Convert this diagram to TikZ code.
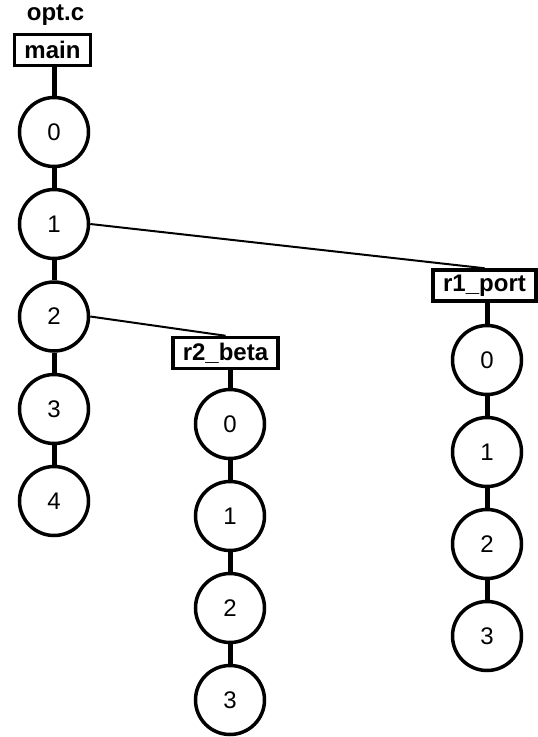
\documentclass[tikz,border=0pt]{standalone}
\usepackage{fontspec}
\setmainfont{Liberation Sans}
\begin{document}
\begin{tikzpicture}[x=1pt,y=-1pt,
  fn/.style={circle,draw,line width=3.5pt,minimum size=69pt,inner sep=0pt,font=\fontsize{24}{24}\selectfont},
  fbox/.style={rectangle,draw,line width=3.5pt,minimum height=31pt,inner xsep=10pt,inner ysep=0pt,font=\fontsize{24}{24}\selectfont\bfseries},
  stem/.style={line width=5pt},
  call/.style={line width=2pt}]
\useasboundingbox (0,0) rectangle (538,737);
% file label
\node[anchor=base,inner sep=0pt,font=\fontsize{24}{24}\selectfont\bfseries] (file) at (55.5,20.5) {opt.c};
% main
\node[fbox] (main) at (52.5,50) {main};
\foreach \i/\y in {0/132,1/224,2/316.5,3/409,4/501}
  \node[fn] (m\i) at (54,\y) {\i};
% r2_beta
\node[fbox] (rb) at (225.5,353) {r2\_beta};
\foreach \i/\y in {0/424,1/516,2/608,3/700}
  \node[fn] (b\i) at (230,\y) {\i};
% r1_port
\node[fbox] (rp) at (484.5,285.5) {r1\_port};
\foreach \i/\y in {0/360,1/452,2/544,3/636}
  \node[fn] (p\i) at (487,\y) {\i};
% stems
\draw[stem] (m0.north |- main.south) -- (m0.north);
\draw[stem] (m0.south) -- (m1.north);
\draw[stem] (m1.south) -- (m2.north);
\draw[stem] (m2.south) -- (m3.north);
\draw[stem] (m3.south) -- (m4.north);
\draw[stem] (b0.north |- rb.south) -- (b0.north);
\draw[stem] (b0.south) -- (b1.north);
\draw[stem] (b1.south) -- (b2.north);
\draw[stem] (b2.south) -- (b3.north);
\draw[stem] (p0.north |- rp.south) -- (p0.north);
\draw[stem] (p0.south) -- (p1.north);
\draw[stem] (p1.south) -- (p2.north);
\draw[stem] (p2.south) -- (p3.north);
% calls
\draw[call] (m1.east) -- (rp.north);
\draw[call] (m2.east) -- (rb.north);
\end{tikzpicture}
\end{document}
